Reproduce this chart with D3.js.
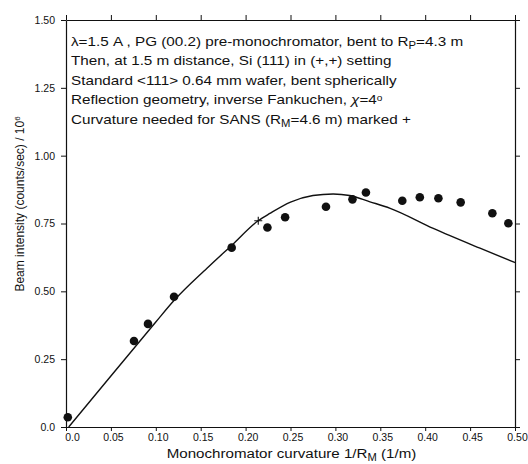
<!DOCTYPE html>
<html><head><meta charset="utf-8">
<script src="https://cdn.jsdelivr.net/npm/d3@7/dist/d3.min.js"></script>
<style>body{margin:0;background:#fff}svg{display:block}text{font-family:"Liberation Sans",Arial,sans-serif;fill:#111}</style>
</head><body><svg id="c" width="528" height="464"></svg>
<script>
const dataX = [0.002, 0.0757, 0.0913, 0.1203, 0.1845, 0.2243, 0.244, 0.2895, 0.319, 0.334, 0.3745, 0.394, 0.4147, 0.4395, 0.4748, 0.4926];
const dataY = [0.036, 0.317, 0.380, 0.480, 0.661, 0.735, 0.773, 0.812, 0.839, 0.864, 0.834, 0.847, 0.843, 0.828, 0.788, 0.751];
const curveX = [0.003, 0.05, 0.1, 0.12, 0.157, 0.185, 0.214, 0.227, 0.25, 0.275, 0.2975, 0.316, 0.3385, 0.361, 0.409, 0.461, 0.5];
const curveY = [0, 0.188, 0.387, 0.465, 0.585, 0.671, 0.760, 0.787, 0.829, 0.853, 0.859, 0.853, 0.830, 0.806, 0.732, 0.659, 0.606];
const markX = [0.2141];
const markY = [0.760];
const xTicks = [0, 0.05, 0.10, 0.15, 0.20, 0.25, 0.30, 0.35, 0.40, 0.45, 0.50];
const xTickLabels = ["0.0","0.05","0.10","0.15","0.20","0.25","0.30","0.35","0.40","0.45","0.50"];
const yTicks = [0, 0.25, 0.5, 0.75, 1.0, 1.25, 1.5];
const yTickLabels = ["0.0","0.25","0.50","0.75","1.00","1.25","1.50"];

const svg = d3.select("#c");
const x = d3.scaleLinear().domain([0, 0.5]).range([66, 515]);
const y = d3.scaleLinear().domain([0, 1.5]).range([427, 20]);

function styleAxis(g){
  g.select(".domain").attr("stroke","#111").attr("stroke-width",1.2);
  g.selectAll(".tick line").attr("stroke","#111").attr("stroke-width",1);
  g.selectAll(".tick text").style("font-size","10.5px").attr("fill","#111");
}
svg.append("g").attr("transform","translate(0,427)")
  .call(d3.axisBottom(x).tickValues(xTicks).tickFormat((d,i)=>xTickLabels[i]).tickSize(4).tickPadding(3).tickSizeOuter(0))
  .call(styleAxis).call(g=>g.selectAll(".tick text").attr("dx",(d,i)=>i===0?"6":"2"));
svg.append("g").attr("transform","translate(0,20)")
  .call(d3.axisTop(x).tickValues(xTicks).tickFormat("").tickSize(5).tickSizeOuter(0)).call(styleAxis);
svg.append("g").attr("transform","translate(66,0)")
  .call(d3.axisLeft(y).tickValues(yTicks).tickFormat((d,i)=>yTickLabels[i]).tickSize(5).tickPadding(6).tickSizeOuter(0)).call(styleAxis);
svg.append("g").attr("transform","translate(515,0)")
  .call(d3.axisRight(y).tickValues(yTicks).tickFormat("").tickSize(5).tickSizeOuter(0)).call(styleAxis);

const line = d3.line().x(d=>x(d[0])).y(d=>y(d[1])).curve(d3.curveMonotoneX);
svg.append("path").datum(curveX.map((v,i)=>[v,curveY[i]]))
  .attr("d",line).attr("fill","none").attr("stroke","#111").attr("stroke-width",1.4);

svg.append("g").selectAll("circle").data(dataX.map((v,i)=>[v,dataY[i]])).join("circle")
  .attr("cx",d=>x(d[0])).attr("cy",d=>y(d[1])).attr("r",4.3).attr("fill","#111");

svg.append("g").selectAll("path").data(markX.map((v,i)=>[v,markY[i]])).join("path")
  .attr("d",d=>{const cx=x(d[0]),cy=y(d[1]);return `M${cx-4},${cy}H${cx+4}M${cx},${cy-4}V${cy+4}`;})
  .attr("stroke","#111").attr("stroke-width",1.1);

// annotation text (horizontally stretched like the scanned original)
const notes = svg.append("g").attr("transform","translate(71,0) scale(1.13,1)").style("font-size","13.5px");
const ly0 = 46, dy = 19.5;
let t = notes.append("text").attr("x",0).attr("y",ly0);
t.append("tspan").text("λ=1.5 A , PG (00.2) pre-monochromator, bent to R");
t.append("tspan").attr("baseline-shift","-30%").style("font-size","10px").text("P");
t.append("tspan").text("=4.3 m");
notes.append("text").attr("x",0).attr("y",ly0+dy).text("Then, at 1.5 m distance, Si (111) in (+,+) setting");
notes.append("text").attr("x",0).attr("y",ly0+2*dy).text("Standard <111> 0.64 mm wafer, bent spherically");
t = notes.append("text").attr("x",0).attr("y",ly0+3*dy);
t.append("tspan").text("Reflection geometry, inverse Fankuchen, ");
t.append("tspan").style("font-style","italic").text("χ");
t.append("tspan").text("=4");
t.append("tspan").attr("baseline-shift","45%").style("font-size","9px").text("o");
t = notes.append("text").attr("x",0).attr("y",ly0+4*dy);
t.append("tspan").text("Curvature needed for SANS (R");
t.append("tspan").attr("baseline-shift","-30%").style("font-size","10px").text("M");
t.append("tspan").text("=4.6 m) marked  +");

// axis titles
t = svg.append("g").attr("transform","translate(291.5,0) scale(1.12,1)")
  .append("text").attr("x",0).attr("y",458).attr("text-anchor","middle").style("font-size","13.5px");
t.append("tspan").text("Monochromator curvature 1/R");
t.append("tspan").attr("baseline-shift","-30%").style("font-size","10px").text("M");
t.append("tspan").text(" (1/m)");

t = svg.append("text").attr("transform","translate(24,204) rotate(-90)").attr("text-anchor","middle").style("font-size","12px");
t.append("tspan").text("Beam intensity (counts/sec) / 10");
t.append("tspan").attr("baseline-shift","45%").style("font-size","8px").text("6");
</script></body></html>
